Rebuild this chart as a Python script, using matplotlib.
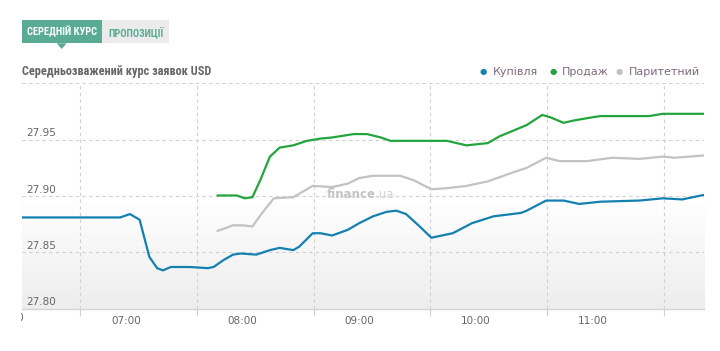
import matplotlib
matplotlib.use("Agg")
import matplotlib.pyplot as plt
import numpy as np
from matplotlib import font_manager
from matplotlib.colors import LinearSegmentedColormap
from matplotlib.patches import Rectangle, Polygon
from matplotlib.transforms import Bbox

# ---------------- data ----------------
buy_times = ["06:06", "06:57", "07:02", "07:07", "07:12", "07:16", "07:19", "07:23", "07:33",
             "07:42", "07:45", "07:50", "07:55", "07:59", "08:07", "08:14", "08:19", "08:26",
             "08:29", "08:36", "08:40", "08:46", "08:54", "09:00", "09:07", "09:14", "09:19",
             "09:24", "09:31", "09:37", "09:48", "09:58", "10:09", "10:23", "10:26", "10:36",
             "10:45", "10:53", "11:04", "11:24", "11:36", "11:46", "11:57"]
buy_values = [27.881, 27.881, 27.884, 27.879, 27.846, 27.836, 27.834, 27.837, 27.837,
              27.836, 27.837, 27.843, 27.848, 27.849, 27.848, 27.852, 27.854, 27.852,
              27.855, 27.867, 27.867, 27.865, 27.870, 27.876, 27.882, 27.886, 27.887,
              27.884, 27.873, 27.863, 27.867, 27.876, 27.882, 27.885, 27.887, 27.896,
              27.896, 27.893, 27.895, 27.896, 27.898, 27.897, 27.901]

sell_times = ["07:47", "07:57", "08:01", "08:05", "08:09", "08:14", "08:19", "08:26", "08:33",
              "08:40", "08:46", "08:57", "09:04", "09:11", "09:16", "09:31", "09:45", "09:55",
              "10:06", "10:12", "10:19", "10:26", "10:34", "10:38", "10:45", "10:50", "11:00",
              "11:04", "11:29", "11:36", "11:57"]
sell_values = [27.9005, 27.9005, 27.898, 27.899, 27.914, 27.935, 27.943, 27.945, 27.949,
               27.951, 27.952, 27.955, 27.955, 27.952, 27.949, 27.949, 27.949, 27.945,
               27.947, 27.953, 27.958, 27.963, 27.972, 27.970, 27.965, 27.967, 27.970,
               27.971, 27.971, 27.973, 27.973]

par_times = ["07:47", "07:55", "08:00", "08:05", "08:10", "08:16", "08:26", "08:29", "08:36",
             "08:46", "08:54", "09:00", "09:07", "09:21", "09:28", "09:37", "09:45", "09:55",
             "10:06", "10:19", "10:26", "10:36", "10:43", "10:57", "11:10", "11:24", "11:36",
             "11:42", "11:57"]
par_values = [27.869, 27.874, 27.874, 27.873, 27.885, 27.898, 27.899, 27.902, 27.909,
              27.908, 27.911, 27.916, 27.918, 27.918, 27.914, 27.906, 27.907, 27.909,
              27.913, 27.921, 27.925, 27.934, 27.931, 27.931, 27.934, 27.933, 27.935,
              27.934, 27.936]

series_names = ["Купівля", "Продаж", "Паритетний"]
series_colors = ["#1381b0", "#23a53d", "#c2c2c2"]

hour_labels = ["07:00", "08:00", "09:00", "10:00", "11:00"]
y_ticks = [27.80, 27.85, 27.90, 27.95]
title_text = "Середньозважений курс заявок USD"
tab_labels = ["СЕРЕДНІЙ КУРС", "ПРОПОЗИЦІЇ"]


def to_min(s):
    h, m = s.split(":")
    return int(h) * 60 + int(m)


available = {f.name for f in font_manager.fontManager.ttflist}
cond = None
for cand in ["Liberation Sans Narrow", "Roboto Condensed", "Open Sans Condensed", "DejaVu Sans"]:
    if cand in available:
        cond = cand
        break

W, H = 720, 351
fig = plt.figure(figsize=(W / 100, H / 100), dpi=100)
fig.patch.set_facecolor("white")

left_px, right_px, top_px, bot_px = 21.5, 704, 83.4, 308.7
ax = fig.add_axes([left_px / W, (H - bot_px) / H, (right_px - left_px) / W, (bot_px - top_px) / H])

# x scale: 07:00 at px 126, 116.7 px per hour
px_per_min = 116.7 / 60
x0 = 7 * 60 - (126 - left_px) / px_per_min
x1 = 7 * 60 + (right_px - 126) / px_per_min
ax.set_xlim(x0, x1)
ax.set_ylim(27.80, 28.00)

# gradient background (white at top -> light grey at bottom)
cmap = LinearSegmentedColormap.from_list("bg", ["#ffffff", "#ffffff", "#ededed"])
grad = np.linspace(0, 1, 256).reshape(-1, 1)
ax.imshow(grad, aspect="auto", cmap=cmap, extent=[x0, x1, 27.80, 28.00], origin="upper",
          zorder=0, vmin=0, vmax=1)
ax.set_facecolor("white")

for sp in ["top", "left", "right"]:
    ax.spines[sp].set_visible(False)
ax.spines["bottom"].set_color("#d4d4d4")
ax.spines["bottom"].set_linewidth(1)

# horizontal grid (dashed)
for yv in y_ticks[1:] + [28.00]:
    ax.axhline(yv, color="#d0d0d0", lw=0.8, ls=(0, (3, 3)), zorder=1)

# vertical grid lines at xx:36.5
grid_pos = [h * 60 + 36.5 for h in range(6, 12)]
ax.set_xticks(grid_pos, minor=True)
ax.grid(True, which="minor", axis="x", color="#d0d0d0", lw=0.8, ls=(0, (3, 3)), zorder=1)
ax.tick_params(axis="x", which="minor", length=5, color="#d0d0d0", width=0.8, direction="out")

ax.set_xticks([to_min(h) for h in hour_labels])
ax.set_xticklabels(hour_labels)
ax.tick_params(axis="x", which="major", length=0, pad=5, labelsize=7.5, labelcolor="#666666")
ax.set_yticks([])

# y labels inside plot
for yv in y_ticks:
    ax.text(x0 + 4.5 / px_per_min, yv + 0.0012, f"{yv:.2f}", fontsize=7.5, color="#666666",
            ha="left", va="bottom", zorder=3)

# partially visible 06:00 label clipped at plot left
t = ax.text(6 * 60, -0.02, "06:00", transform=ax.get_xaxis_transform(), fontsize=7.5,
            color="#666666", ha="center", va="top", clip_on=True)
t.set_clip_box(Bbox.from_extents(left_px - 1, 0, W, H))

# watermark
ax.text(0.519, 0.505, "finance", transform=ax.transAxes, fontsize=8.5, fontweight="bold",
        color="#c4c4c4", ha="right", va="center", zorder=1)
ax.text(0.519, 0.505, ".ua", transform=ax.transAxes, fontsize=8.5,
        color="#cdd3d8", ha="left", va="center", zorder=1)

# series
for times, vals, col in [(buy_times, buy_values, series_colors[0]),
                         (sell_times, sell_values, series_colors[1]),
                         (par_times, par_values, series_colors[2])]:
    ax.plot([to_min(s) for s in times], vals, color=col, lw=1.6,
            solid_joinstyle="round", solid_capstyle="round", zorder=4)

# title
fig.text(21.5 / W, 1 - 71.7 / H, title_text, fontsize=8.8, fontweight="bold", color="#666666",
         family=cond, ha="left", va="center")

# tabs
teal = "#5aab94"
fig.patches.append(Rectangle((21.7 / W, 1 - 43.3 / H), (102.3 - 21.7) / W, (43.3 - 20) / H,
                             transform=fig.transFigure, facecolor=teal, edgecolor="none"))
fig.patches.append(Polygon([[56.7 / W, 1 - 43.3 / H], [66.7 / W, 1 - 43.3 / H], [61.7 / W, 1 - 49 / H]],
                           closed=True, transform=fig.transFigure, facecolor=teal, edgecolor="none"))
fig.patches.append(Rectangle((102.3 / W, 1 - 43.3 / H), (169 - 102.3) / W, (43.3 - 20) / H,
                             transform=fig.transFigure, facecolor="#ebebeb", edgecolor="none"))
fig.text(62 / W, 1 - 32 / H, tab_labels[0], fontsize=7.5, fontweight="bold", color="white",
         family=cond, ha="center", va="center")
fig.text(135.6 / W, 1 - 32 / H, tab_labels[1], fontsize=7.5, fontweight="bold", color=teal,
         family=cond, ha="center", va="center")

# legend
leg_dots = [483.3, 552.7, 619.3]
for xd, name, col in zip(leg_dots, series_names, series_colors):
    fig.text(xd / W, 1 - 71.7 / H, "●", fontsize=6, color=col, ha="center", va="center")
    fig.text((xd + 9.5) / W, 1 - 71.7 / H, name, fontsize=8, color="#7f6a80", ha="left", va="center")

fig.savefig("out.png", dpi=100, facecolor="white")
